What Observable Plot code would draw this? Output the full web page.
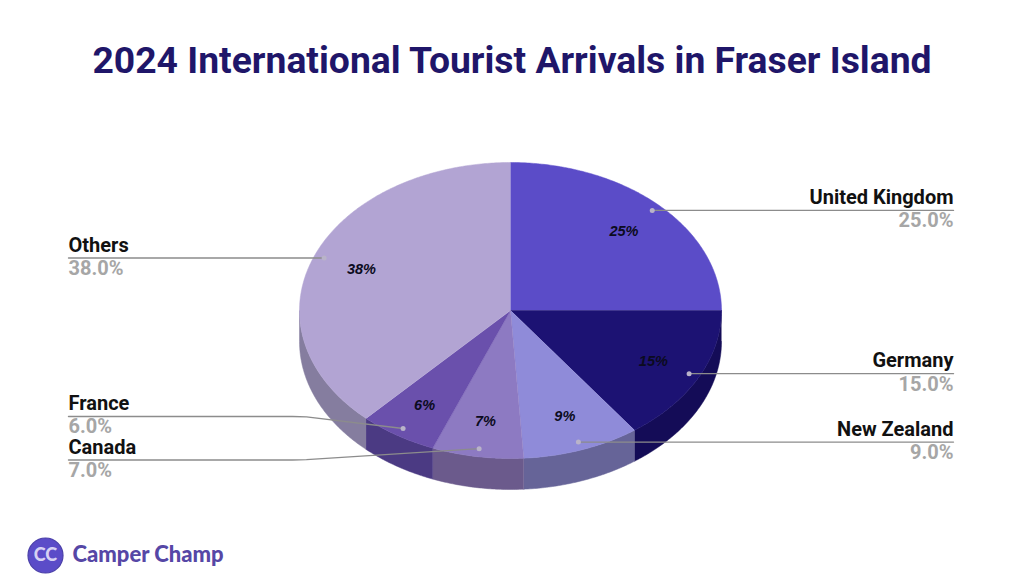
<!DOCTYPE html>
<html>
<head>
<meta charset="utf-8">
<script src="https://cdn.jsdelivr.net/npm/d3@7"></script>
<script src="https://cdn.jsdelivr.net/npm/@observablehq/plot@0.6"></script>
<style>
  html, body { margin: 0; padding: 0; background: #fff; }
  #title { height: 100px; box-sizing: border-box; padding-top: 38px; text-align: center;
    font: 700 37.3px/44px Roboto, sans-serif; color: #1f1669; white-space: nowrap; }
  svg { display: block; }
</style>
</head>
<body>
<div id="title">2024 International Tourist Arrivals in Fraser Island</div>
<div id="chart"></div>
<script>
const categories = ["United Kingdom", "Germany", "New Zealand", "Canada", "France", "Others"];
const shares = [25, 15, 9, 7, 6, 38];
const topColors = ["#5b4cc8", "#1c1273", "#8f8bd9", "#8d7ac2", "#6a50ac", "#b2a4d3"];
const sideColors = ["#3f3590", "#140c57", "#666498", "#6b5a8c", "#4b3a83", "#857d9f"];
const labelOffsets = [null, null, null, 459.5, 416, null];

// Layout of the tilted pie
const W = 1024, H = 582, titleH = 100;
const cx = 510, cy = 310, rx = 211, ry = 148, depth = 31;
const labelRight = 953, labelLeft = 68;

const total = d3.sum(shares);
const cum = d3.cumsum(shares);
const slices = categories.map((name, i) => {
  const a0 = ((cum[i] - shares[i]) / total) * 2 * Math.PI;
  const a1 = (cum[i] / total) * 2 * Math.PI;
  const mid = (a0 + a1) / 2;
  return {name, i, value: shares[i], a0, a1, mid};
});
const px = (a, r = 1) => cx + rx * r * Math.sin(a);
const py = (a, r = 1) => cy - ry * r * Math.cos(a);
const arc = (a0, a1) => {
  const n = Math.max(2, Math.ceil((a1 - a0) / 0.01));
  return d3.range(n + 1).map(k => a0 + (a1 - a0) * k / n);
};

const topPts = slices.flatMap(s => [
  {slice: s.name, x: cx, y: cy, fill: topColors[s.i]},
  ...arc(s.a0, s.a1).map(a => ({slice: s.name, x: px(a), y: py(a), fill: topColors[s.i]}))
]);

const sidePts = slices.flatMap(s => {
  const lo = Math.max(s.a0, Math.PI / 2), hi = Math.min(s.a1, 3 * Math.PI / 2);
  if (hi <= lo) return [];
  const as = arc(lo, hi);
  return [
    ...as.map(a => ({slice: s.name, x: px(a), y: py(a), fill: sideColors[s.i]})),
    ...as.slice().reverse().map(a => ({slice: s.name, x: px(a), y: py(a) + depth, fill: sideColors[s.i]}))
  ];
});

const dots = slices.map(s => ({...s, x: px(s.mid, 0.95), y: py(s.mid, 0.95) - 0.7}));
const rows = dots.map(d => {
  const right = d.x > cx;
  const ly = labelOffsets[d.i] ?? d.y;
  return {...d, right, ly, lx: right ? labelRight : labelLeft};
});
const leaderPts = rows.flatMap(r => {
  const pts = [{slice: r.name, x: r.x, y: r.y}];
  if (labelOffsets[r.i] != null) {
    pts.push({slice: r.name, x: 306, y: r.ly + (r.y - r.ly) * 0.03});
    pts.push({slice: r.name, x: 292, y: r.ly});
  }
  pts.push({slice: r.name, x: r.lx, y: r.ly});
  return pts;
});
const pctLabels = slices.map(s => ({
  x: px(s.mid, 0.76), y: py(s.mid, 0.76), text: `${s.value}%`
}));

const nameOpts = {
  x: "lx", y: d => d.ly - 12.7, text: "name", fill: "#111",
  fontFamily: "Roboto, sans-serif", fontWeight: 700, fontSize: 20
};
const valOpts = {
  x: "lx", y: d => d.ly + 10.5, text: d => d.value.toFixed(1) + "%", fill: "#a6a6a6",
  fontFamily: "Roboto, sans-serif", fontWeight: 700, fontSize: 20
};

const plot = Plot.plot({
  width: W, height: H - titleH,
  margin: 0,
  style: {background: "#fff"},
  x: {domain: [0, W], range: [0, W], axis: null},
  y: {domain: [titleH, H], range: [0, H - titleH], axis: null},
  color: {type: "identity"},
  marks: [
    Plot.line(sidePts, {x: "x", y: "y", z: "slice", fill: "fill", stroke: "fill", strokeWidth: 0.5}),
    Plot.line(topPts, {x: "x", y: "y", z: "slice", fill: "fill", stroke: "fill", strokeWidth: 0.5}),
    Plot.line(leaderPts, {x: "x", y: "y", z: "slice", stroke: "#8c8c8c", strokeWidth: 1.4}),
    Plot.dot(dots, {x: "x", y: "y", r: 2.5, fill: "#b9b3c9"}),
    Plot.text(pctLabels, {x: "x", y: "y", text: "text", fill: "#0b0b20",
      fontFamily: "Liberation Sans, Arial, sans-serif", fontWeight: 700, fontStyle: "italic", fontSize: 14.5}),
    Plot.text(rows.filter(r => r.right), {...nameOpts, textAnchor: "end"}),
    Plot.text(rows.filter(r => !r.right), {...nameOpts, textAnchor: "start"}),
    Plot.text(rows.filter(r => r.right), {...valOpts, textAnchor: "end"}),
    Plot.text(rows.filter(r => !r.right), {...valOpts, textAnchor: "start"}),
    // Brand mark
    Plot.dot([{x: 45, y: 555}], {x: "x", y: "y", r: 17.5, fill: "#5b4cc8", stroke: "#4a3fa8", strokeWidth: 1.2}),
    Plot.text(["CC"], {x: [45], y: [555], text: d => d, fill: "#d6d1f3",
      fontFamily: "Lato, sans-serif", fontWeight: 900, fontSize: 18}),
    Plot.text(["Camper Champ"], {x: [72], y: [554], text: d => d, textAnchor: "start", fill: "#5647a6",
      fontFamily: "Lato, sans-serif", fontWeight: 900, fontSize: 22})
  ]
});
document.getElementById("chart").appendChild(plot);
</script>
</body>
</html>
